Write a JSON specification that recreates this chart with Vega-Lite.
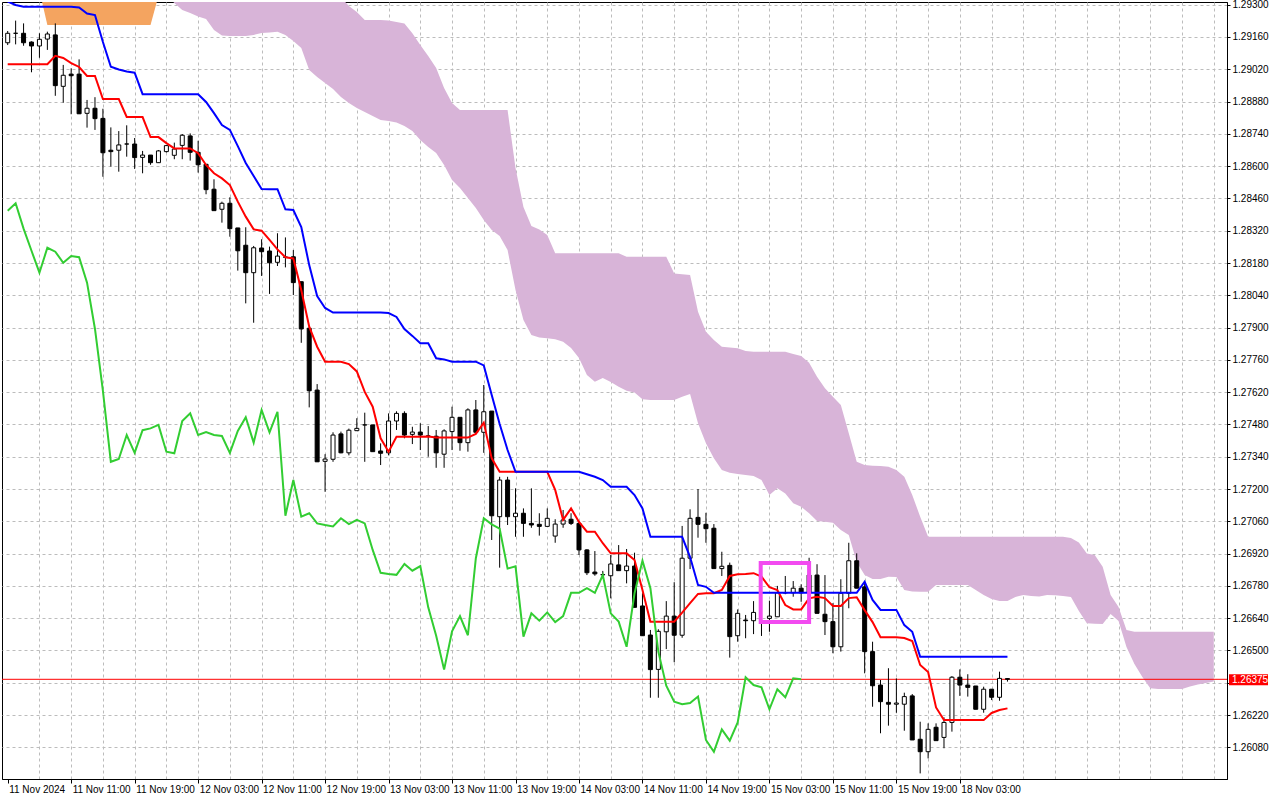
{
"$schema": "https://vega.github.io/schema/vega-lite/v6.json",
"width": 1225, "height": 777,
"autosize": {"type": "none"},
"padding": {"left": 2, "top": 2, "right": 53, "bottom": 21},
"background": "#ffffff",
"config": {"view": {"stroke": "#000000", "strokeWidth": 1}, "font": "Liberation Sans"},
"datasets": {
"bars": [
{"k":0,"o":1.29135,"h":1.29186,"l":1.29125,"c":1.29176,"t":1.29042,"kj":1.29314,"ch":1.28407},
{"k":1,"o":1.29176,"h":1.29231,"l":1.29128,"c":1.29176,"t":1.29042,"kj":1.29299,"ch":1.28439},
{"k":2,"o":1.29176,"h":1.29219,"l":1.29122,"c":1.29135,"t":1.29042,"kj":1.29291,"ch":1.28329},
{"k":3,"o":1.29138,"h":1.29141,"l":1.29007,"c":1.29121,"t":1.29042,"kj":1.29291,"ch":1.28233},
{"k":4,"o":1.29121,"h":1.29176,"l":1.29070,"c":1.29150,"t":1.29042,"kj":1.29291,"ch":1.28138},
{"k":5,"o":1.29151,"h":1.29183,"l":1.29104,"c":1.29173,"t":1.29042,"kj":1.29291,"ch":1.28246},
{"k":6,"o":1.29169,"h":1.29219,"l":1.28905,"c":1.28949,"t":1.29078,"kj":1.29291,"ch":1.28229},
{"k":7,"o":1.28946,"h":1.29039,"l":1.28875,"c":1.28994,"t":1.29069,"kj":1.29291,"ch":1.28181},
{"k":8,"o":1.28999,"h":1.29024,"l":1.28825,"c":1.28992,"t":1.29047,"kj":1.29291,"ch":1.28210},
{"k":9,"o":1.28999,"h":1.29063,"l":1.28826,"c":1.28827,"t":1.29030,"kj":1.29288,"ch":1.28205},
{"k":10,"o":1.28829,"h":1.28887,"l":1.28767,"c":1.28851,"t":1.28991,"kj":1.29262,"ch":1.28095},
{"k":11,"o":1.28851,"h":1.28899,"l":1.28757,"c":1.28806,"t":1.28991,"kj":1.29255,"ch":1.27894},
{"k":12,"o":1.28807,"h":1.28849,"l":1.28554,"c":1.28658,"t":1.28891,"kj":1.29138,"ch":1.27626},
{"k":13,"o":1.28669,"h":1.28768,"l":1.28598,"c":1.28663,"t":1.28891,"kj":1.29031,"ch":1.27318},
{"k":14,"o":1.28669,"h":1.28752,"l":1.28576,"c":1.28692,"t":1.28891,"kj":1.29019,"ch":1.27330},
{"k":15,"o":1.28696,"h":1.28777,"l":1.28641,"c":1.28696,"t":1.28813,"kj":1.29010,"ch":1.27434},
{"k":16,"o":1.28696,"h":1.28722,"l":1.28588,"c":1.28637,"t":1.28813,"kj":1.29005,"ch":1.27357},
{"k":17,"o":1.28638,"h":1.28666,"l":1.28569,"c":1.28648,"t":1.28813,"kj":1.28912,"ch":1.27455},
{"k":18,"o":1.28648,"h":1.28648,"l":1.28606,"c":1.28615,"t":1.28726,"kj":1.28912,"ch":1.27463},
{"k":19,"o":1.28615,"h":1.28670,"l":1.28614,"c":1.28666,"t":1.28726,"kj":1.28912,"ch":1.27478},
{"k":20,"o":1.28663,"h":1.28692,"l":1.28659,"c":1.28689,"t":1.28700,"kj":1.28912,"ch":1.27362},
{"k":21,"o":1.28647,"h":1.28702,"l":1.28630,"c":1.28674,"t":1.28677,"kj":1.28912,"ch":1.27355},
{"k":22,"o":1.28690,"h":1.28739,"l":1.28630,"c":1.28734,"t":1.28677,"kj":1.28912,"ch":1.27495},
{"k":23,"o":1.28731,"h":1.28742,"l":1.28624,"c":1.28660,"t":1.28677,"kj":1.28912,"ch":1.27528},
{"k":24,"o":1.28660,"h":1.28710,"l":1.28572,"c":1.28606,"t":1.28656,"kj":1.28912,"ch":1.27434},
{"k":25,"o":1.28608,"h":1.28608,"l":1.28478,"c":1.28498,"t":1.28605,"kj":1.28878,"ch":1.27447},
{"k":26,"o":1.28500,"h":1.28543,"l":1.28407,"c":1.28407,"t":1.28569,"kj":1.28830,"ch":1.27434},
{"k":27,"o":1.28413,"h":1.28446,"l":1.28355,"c":1.28439,"t":1.28547,"kj":1.28778,"ch":1.27430},
{"k":28,"o":1.28439,"h":1.28465,"l":1.28294,"c":1.28329,"t":1.28518,"kj":1.28757,"ch":1.27357},
{"k":29,"o":1.28332,"h":1.28332,"l":1.28147,"c":1.28233,"t":1.28446,"kj":1.28687,"ch":1.27452},
{"k":30,"o":1.28257,"h":1.28335,"l":1.28005,"c":1.28138,"t":1.28381,"kj":1.28614,"ch":1.27511},
{"k":31,"o":1.28138,"h":1.28254,"l":1.27921,"c":1.28246,"t":1.28326,"kj":1.28557,"ch":1.27401},
{"k":32,"o":1.28245,"h":1.28283,"l":1.28124,"c":1.28229,"t":1.28320,"kj":1.28501,"ch":1.27543},
{"k":33,"o":1.28232,"h":1.28251,"l":1.28046,"c":1.28181,"t":1.28280,"kj":1.28500,"ch":1.27446},
{"k":34,"o":1.28183,"h":1.28309,"l":1.28167,"c":1.28210,"t":1.28239,"kj":1.28500,"ch":1.27535},
{"k":35,"o":1.28206,"h":1.28291,"l":1.28161,"c":1.28205,"t":1.28205,"kj":1.28413,"ch":1.27084},
{"k":36,"o":1.28207,"h":1.28236,"l":1.28041,"c":1.28095,"t":1.28200,"kj":1.28410,"ch":1.27239},
{"k":37,"o":1.28099,"h":1.28099,"l":1.27834,"c":1.27894,"t":1.28063,"kj":1.28336,"ch":1.27080},
{"k":38,"o":1.27897,"h":1.27904,"l":1.27554,"c":1.27626,"t":1.27904,"kj":1.28171,"ch":1.27095},
{"k":39,"o":1.27629,"h":1.27655,"l":1.27318,"c":1.27318,"t":1.27817,"kj":1.28037,"ch":1.27051},
{"k":40,"o":1.27320,"h":1.27351,"l":1.27188,"c":1.27330,"t":1.27752,"kj":1.27985,"ch":1.27044},
{"k":41,"o":1.27329,"h":1.27446,"l":1.27318,"c":1.27434,"t":1.27752,"kj":1.27965,"ch":1.27038},
{"k":42,"o":1.27439,"h":1.27449,"l":1.27355,"c":1.27357,"t":1.27752,"kj":1.27965,"ch":1.27073},
{"k":43,"o":1.27357,"h":1.27462,"l":1.27346,"c":1.27455,"t":1.27742,"kj":1.27965,"ch":1.27048},
{"k":44,"o":1.27453,"h":1.27507,"l":1.27453,"c":1.27463,"t":1.27710,"kj":1.27965,"ch":1.27066},
{"k":45,"o":1.27478,"h":1.27531,"l":1.27318,"c":1.27478,"t":1.27621,"kj":1.27965,"ch":1.27051},
{"k":46,"o":1.27478,"h":1.27478,"l":1.27362,"c":1.27362,"t":1.27557,"kj":1.27965,"ch":1.26936},
{"k":47,"o":1.27365,"h":1.27398,"l":1.27304,"c":1.27355,"t":1.27420,"kj":1.27965,"ch":1.26837},
{"k":48,"o":1.27357,"h":1.27528,"l":1.27346,"c":1.27495,"t":1.27362,"kj":1.27963,"ch":1.26832},
{"k":49,"o":1.27495,"h":1.27537,"l":1.27456,"c":1.27528,"t":1.27427,"kj":1.27946,"ch":1.26828},
{"k":50,"o":1.27528,"h":1.27537,"l":1.27420,"c":1.27434,"t":1.27427,"kj":1.27894,"ch":1.26875},
{"k":51,"o":1.27437,"h":1.27470,"l":1.27395,"c":1.27447,"t":1.27427,"kj":1.27864,"ch":1.26846},
{"k":52,"o":1.27447,"h":1.27485,"l":1.27369,"c":1.27434,"t":1.27427,"kj":1.27832,"ch":1.26866},
{"k":53,"o":1.27430,"h":1.27473,"l":1.27340,"c":1.27430,"t":1.27428,"kj":1.27832,"ch":1.26687},
{"k":54,"o":1.27429,"h":1.27456,"l":1.27292,"c":1.27357,"t":1.27423,"kj":1.27767,"ch":1.26564},
{"k":55,"o":1.27351,"h":1.27459,"l":1.27292,"c":1.27452,"t":1.27423,"kj":1.27762,"ch":1.26417},
{"k":56,"o":1.27449,"h":1.27557,"l":1.27369,"c":1.27511,"t":1.27423,"kj":1.27752,"ch":1.26583},
{"k":57,"o":1.27511,"h":1.27511,"l":1.27366,"c":1.27401,"t":1.27423,"kj":1.27752,"ch":1.26649},
{"k":58,"o":1.27401,"h":1.27550,"l":1.27362,"c":1.27543,"t":1.27423,"kj":1.27752,"ch":1.26566},
{"k":59,"o":1.27543,"h":1.27586,"l":1.27446,"c":1.27446,"t":1.27439,"kj":1.27752,"ch":1.26900},
{"k":60,"o":1.27446,"h":1.27651,"l":1.27357,"c":1.27535,"t":1.27488,"kj":1.27736,"ch":1.27073},
{"k":61,"o":1.27538,"h":1.27538,"l":1.26979,"c":1.27084,"t":1.27333,"kj":1.27608,"ch":1.27047},
{"k":62,"o":1.27080,"h":1.27253,"l":1.26859,"c":1.27239,"t":1.27275,"kj":1.27482,"ch":1.27028},
{"k":63,"o":1.27239,"h":1.27253,"l":1.27044,"c":1.27080,"t":1.27275,"kj":1.27369,"ch":1.26855},
{"k":64,"o":1.27080,"h":1.27203,"l":1.26993,"c":1.27095,"t":1.27275,"kj":1.27275,"ch":1.26865},
{"k":65,"o":1.27095,"h":1.27116,"l":1.26993,"c":1.27051,"t":1.27275,"kj":1.27275,"ch":1.26560},
{"k":66,"o":1.27051,"h":1.27203,"l":1.27032,"c":1.27044,"t":1.27275,"kj":1.27275,"ch":1.26661},
{"k":67,"o":1.27047,"h":1.27095,"l":1.26998,"c":1.27038,"t":1.27275,"kj":1.27275,"ch":1.26629},
{"k":68,"o":1.27038,"h":1.27116,"l":1.27038,"c":1.27073,"t":1.27275,"kj":1.27275,"ch":1.26665},
{"k":69,"o":1.26996,"h":1.27069,"l":1.26967,"c":1.27048,"t":1.27196,"kj":1.27275,"ch":1.26623},
{"k":70,"o":1.27048,"h":1.27109,"l":1.27032,"c":1.27066,"t":1.27066,"kj":1.27275,"ch":1.26649},
{"k":71,"o":1.27069,"h":1.27095,"l":1.27044,"c":1.27051,"t":1.27116,"kj":1.27275,"ch":1.26750},
{"k":72,"o":1.27051,"h":1.27058,"l":1.26914,"c":1.26936,"t":1.27057,"kj":1.27275,"ch":1.26750},
{"k":73,"o":1.26936,"h":1.26939,"l":1.26827,"c":1.26837,"t":1.27015,"kj":1.27264,"ch":1.26770},
{"k":74,"o":1.26840,"h":1.26931,"l":1.26824,"c":1.26832,"t":1.27015,"kj":1.27253,"ch":1.26750},
{"k":75,"o":1.26829,"h":1.26845,"l":1.26814,"c":1.26828,"t":1.26965,"kj":1.27239,"ch":1.26827},
{"k":76,"o":1.26824,"h":1.26914,"l":1.26726,"c":1.26875,"t":1.26921,"kj":1.27210,"ch":1.26661},
{"k":77,"o":1.26871,"h":1.26957,"l":1.26846,"c":1.26846,"t":1.26921,"kj":1.27210,"ch":1.26625},
{"k":78,"o":1.26846,"h":1.26940,"l":1.26791,"c":1.26866,"t":1.26921,"kj":1.27210,"ch":1.26516},
{"k":79,"o":1.26866,"h":1.26924,"l":1.26687,"c":1.26687,"t":1.26892,"kj":1.27174,"ch":1.26748},
{"k":80,"o":1.26693,"h":1.26748,"l":1.26564,"c":1.26564,"t":1.26762,"kj":1.27116,"ch":1.26889},
{"k":81,"o":1.26567,"h":1.26589,"l":1.26295,"c":1.26417,"t":1.26625,"kj":1.26993,"ch":1.26770},
{"k":82,"o":1.26418,"h":1.26592,"l":1.26295,"c":1.26583,"t":1.26625,"kj":1.26993,"ch":1.26495},
{"k":83,"o":1.26581,"h":1.26714,"l":1.26506,"c":1.26649,"t":1.26625,"kj":1.26993,"ch":1.26347},
{"k":84,"o":1.26649,"h":1.26796,"l":1.26449,"c":1.26566,"t":1.26625,"kj":1.26993,"ch":1.26278},
{"k":85,"o":1.26566,"h":1.27040,"l":1.26555,"c":1.26900,"t":1.26664,"kj":1.26993,"ch":1.26267},
{"k":86,"o":1.26900,"h":1.27112,"l":1.26853,"c":1.27073,"t":1.26705,"kj":1.26905,"ch":1.26272},
{"k":87,"o":1.27077,"h":1.27200,"l":1.26989,"c":1.27047,"t":1.26745,"kj":1.26784,"ch":1.26300},
{"k":88,"o":1.27047,"h":1.27097,"l":1.26967,"c":1.27028,"t":1.26748,"kj":1.26776,"ch":1.26112},
{"k":89,"o":1.27030,"h":1.27048,"l":1.26855,"c":1.26855,"t":1.26748,"kj":1.26750,"ch":1.26061},
{"k":90,"o":1.26855,"h":1.26928,"l":1.26823,"c":1.26865,"t":1.26762,"kj":1.26750,"ch":1.26158},
{"k":91,"o":1.26869,"h":1.26881,"l":1.26469,"c":1.26560,"t":1.26823,"kj":1.26750,"ch":1.26109},
{"k":92,"o":1.26564,"h":1.26678,"l":1.26538,"c":1.26661,"t":1.26830,"kj":1.26750,"ch":1.26188},
{"k":93,"o":1.26632,"h":1.26654,"l":1.26553,"c":1.26629,"t":1.26832,"kj":1.26750,"ch":1.26384},
{"k":94,"o":1.26629,"h":1.26714,"l":1.26571,"c":1.26665,"t":1.26835,"kj":1.26750,"ch":1.26350},
{"k":95,"o":1.26628,"h":1.26662,"l":1.26563,"c":1.26623,"t":1.26820,"kj":1.26750,"ch":1.26340},
{"k":96,"o":1.26639,"h":1.26716,"l":1.26581,"c":1.26649,"t":1.26774,"kj":1.26750,"ch":1.26245},
{"k":97,"o":1.26646,"h":1.26780,"l":1.26646,"c":1.26750,"t":1.26762,"kj":1.26750,"ch":1.26332},
{"k":98,"o":1.26750,"h":1.26823,"l":1.26744,"c":1.26750,"t":1.26697,"kj":1.26750,"ch":1.26297},
{"k":99,"o":1.26750,"h":1.26801,"l":1.26733,"c":1.26770,"t":1.26678,"kj":1.26750,"ch":1.26379},
{"k":100,"o":1.26770,"h":1.26787,"l":1.26711,"c":1.26750,"t":1.26678,"kj":1.26750,"ch":1.26375},
{"k":101,"o":1.26750,"h":1.26902,"l":1.26726,"c":1.26827,"t":1.26726,"kj":1.26750},
{"k":102,"o":1.26827,"h":1.26874,"l":1.26661,"c":1.26661,"t":1.26733,"kj":1.26750},
{"k":103,"o":1.26657,"h":1.26827,"l":1.26567,"c":1.26625,"t":1.26727,"kj":1.26750},
{"k":104,"o":1.26625,"h":1.26705,"l":1.26488,"c":1.26516,"t":1.26693,"kj":1.26750},
{"k":105,"o":1.26516,"h":1.26809,"l":1.26495,"c":1.26748,"t":1.26693,"kj":1.26750},
{"k":106,"o":1.26748,"h":1.26967,"l":1.26683,"c":1.26889,"t":1.26727,"kj":1.26750},
{"k":107,"o":1.26889,"h":1.26921,"l":1.26770,"c":1.26770,"t":1.26731,"kj":1.26750},
{"k":108,"o":1.26776,"h":1.26798,"l":1.26401,"c":1.26495,"t":1.26675,"kj":1.26798},
{"k":109,"o":1.26495,"h":1.26538,"l":1.26256,"c":1.26347,"t":1.26623,"kj":1.26719},
{"k":110,"o":1.26350,"h":1.26372,"l":1.26141,"c":1.26278,"t":1.26557,"kj":1.26676},
{"k":111,"o":1.26275,"h":1.26423,"l":1.26174,"c":1.26267,"t":1.26557,"kj":1.26676},
{"k":112,"o":1.26267,"h":1.26379,"l":1.26230,"c":1.26272,"t":1.26557,"kj":1.26676},
{"k":113,"o":1.26267,"h":1.26317,"l":1.26152,"c":1.26300,"t":1.26554,"kj":1.26610},
{"k":114,"o":1.26303,"h":1.26311,"l":1.26112,"c":1.26112,"t":1.26541,"kj":1.26581},
{"k":115,"o":1.26115,"h":1.26191,"l":1.25967,"c":1.26061,"t":1.26437,"kj":1.26473},
{"k":116,"o":1.26061,"h":1.26184,"l":1.26032,"c":1.26158,"t":1.26407,"kj":1.26473},
{"k":117,"o":1.26167,"h":1.26184,"l":1.26109,"c":1.26109,"t":1.26253,"kj":1.26473},
{"k":118,"o":1.26123,"h":1.26210,"l":1.26076,"c":1.26188,"t":1.26198,"kj":1.26473},
{"k":119,"o":1.26188,"h":1.26389,"l":1.26148,"c":1.26384,"t":1.26198,"kj":1.26473},
{"k":120,"o":1.26384,"h":1.26418,"l":1.26303,"c":1.26350,"t":1.26198,"kj":1.26473},
{"k":121,"o":1.26350,"h":1.26397,"l":1.26300,"c":1.26340,"t":1.26198,"kj":1.26473},
{"k":122,"o":1.26346,"h":1.26346,"l":1.26245,"c":1.26245,"t":1.26198,"kj":1.26473},
{"k":123,"o":1.26245,"h":1.26343,"l":1.26230,"c":1.26332,"t":1.26198,"kj":1.26473},
{"k":124,"o":1.26332,"h":1.26332,"l":1.26285,"c":1.26297,"t":1.26229,"kj":1.26473},
{"k":125,"o":1.26297,"h":1.26408,"l":1.26282,"c":1.26379,"t":1.26242,"kj":1.26473},
{"k":126,"o":1.26378,"h":1.26379,"l":1.26365,"c":1.26375,"t":1.26249,"kj":1.26473}
],
"orange": [
{"k":4,"u":1.2950,"l":1.29362},{"k":5,"u":1.2950,"l":1.29212},{"k":6,"u":1.2950,"l":1.29212},{"k":7,"u":1.2950,"l":1.29212},
{"k":8,"u":1.2950,"l":1.29212},{"k":9,"u":1.2950,"l":1.29212},{"k":10,"u":1.2950,"l":1.29212},{"k":11,"u":1.2950,"l":1.29212},
{"k":12,"u":1.2950,"l":1.29212},{"k":13,"u":1.2950,"l":1.29212},{"k":14,"u":1.2950,"l":1.29212},{"k":15,"u":1.2950,"l":1.29212},
{"k":16,"u":1.2950,"l":1.29212},{"k":17,"u":1.2950,"l":1.29212},{"k":18,"u":1.2950,"l":1.29212},{"k":19,"u":1.2950,"l":1.29338}
],
"pink": [
{"k":20,"u":1.29494,"l":1.29342},{"k":21,"u":1.29494,"l":1.29307},{"k":22,"u":1.29494,"l":1.29277},{"k":23,"u":1.29494,"l":1.29264},
{"k":24,"u":1.29494,"l":1.29249},{"k":25,"u":1.29494,"l":1.29238},{"k":26,"u":1.29494,"l":1.29190},{"k":27,"u":1.29494,"l":1.29166},
{"k":28,"u":1.29494,"l":1.29164},{"k":29,"u":1.29494,"l":1.29164},{"k":30,"u":1.29494,"l":1.29164},{"k":31,"u":1.29494,"l":1.29169},
{"k":32,"u":1.29494,"l":1.29177},{"k":33,"u":1.29494,"l":1.29179},{"k":34,"u":1.29494,"l":1.29183},{"k":35,"u":1.29494,"l":1.29169},
{"k":36,"u":1.29494,"l":1.29143},{"k":37,"u":1.29494,"l":1.29112},{"k":38,"u":1.29494,"l":1.29017},{"k":39,"u":1.29494,"l":1.28987},
{"k":40,"u":1.29460,"l":1.28961},{"k":41,"u":1.29385,"l":1.28935},{"k":42,"u":1.29333,"l":1.28900},{"k":43,"u":1.29294,"l":1.28874},
{"k":44,"u":1.29268,"l":1.28852},{"k":45,"u":1.29234,"l":1.28835},{"k":46,"u":1.29234,"l":1.28817},{"k":47,"u":1.29234,"l":1.28800},
{"k":48,"u":1.29231,"l":1.28796},{"k":49,"u":1.29225,"l":1.28789},{"k":50,"u":1.29219,"l":1.28774},{"k":51,"u":1.29176,"l":1.28752},
{"k":52,"u":1.29125,"l":1.28713},{"k":53,"u":1.29078,"l":1.28683},{"k":54,"u":1.29026,"l":1.28657},{"k":55,"u":1.28939,"l":1.28605},
{"k":56,"u":1.28874,"l":1.28540},{"k":57,"u":1.28843,"l":1.28505},{"k":58,"u":1.28843,"l":1.28462},{"k":59,"u":1.28843,"l":1.28419},
{"k":60,"u":1.28843,"l":1.28367},{"k":61,"u":1.28843,"l":1.28323},{"k":62,"u":1.28843,"l":1.28297},{"k":63,"u":1.28843,"l":1.28236},
{"k":64,"u":1.28592,"l":1.28063},{"k":65,"u":1.28423,"l":1.27933},{"k":66,"u":1.28340,"l":1.27868},{"k":67,"u":1.28325,"l":1.27857},
{"k":68,"u":1.28301,"l":1.27854},{"k":69,"u":1.28222,"l":1.27849},{"k":70,"u":1.28222,"l":1.27839},{"k":71,"u":1.28222,"l":1.27812},
{"k":72,"u":1.28222,"l":1.27768},{"k":73,"u":1.28222,"l":1.27694},{"k":74,"u":1.28222,"l":1.27665},{"k":75,"u":1.28222,"l":1.27681},
{"k":76,"u":1.28222,"l":1.27664},{"k":77,"u":1.28222,"l":1.27644},{"k":78,"u":1.28207,"l":1.27626},{"k":79,"u":1.28207,"l":1.27618},
{"k":80,"u":1.28207,"l":1.27589},{"k":81,"u":1.28207,"l":1.27586},{"k":82,"u":1.28207,"l":1.27586},{"k":83,"u":1.28207,"l":1.27586},
{"k":84,"u":1.28135,"l":1.27586},{"k":85,"u":1.28131,"l":1.27600},{"k":86,"u":1.28128,"l":1.27612},{"k":87,"u":1.27969,"l":1.27485},
{"k":88,"u":1.27882,"l":1.27398},{"k":89,"u":1.27846,"l":1.27333},{"k":90,"u":1.27817,"l":1.27283},{"k":91,"u":1.27814,"l":1.27271},
{"k":92,"u":1.27810,"l":1.27265},{"k":93,"u":1.27799,"l":1.27261},{"k":94,"u":1.27795,"l":1.27257},{"k":95,"u":1.27795,"l":1.27239},
{"k":96,"u":1.27795,"l":1.27174},{"k":97,"u":1.27795,"l":1.27203},{"k":98,"u":1.27795,"l":1.27181},{"k":99,"u":1.27785,"l":1.27138},
{"k":100,"u":1.27777,"l":1.27123},{"k":101,"u":1.27748,"l":1.27095},{"k":102,"u":1.27687,"l":1.27061},{"k":103,"u":1.27637,"l":1.27058},
{"k":104,"u":1.27600,"l":1.27054},{"k":105,"u":1.27564,"l":1.27022},{"k":106,"u":1.27442,"l":1.27001},{"k":107,"u":1.27318,"l":1.26884},
{"k":108,"u":1.27304,"l":1.26827},{"k":109,"u":1.27301,"l":1.26810},{"k":110,"u":1.27300,"l":1.26810},{"k":111,"u":1.27297,"l":1.26820},
{"k":112,"u":1.27283,"l":1.26819},{"k":113,"u":1.27253,"l":1.26762},{"k":114,"u":1.27174,"l":1.26756},{"k":115,"u":1.27080,"l":1.26755},
{"k":116,"u":1.26993,"l":1.26755},{"k":117,"u":1.26993,"l":1.26784},{"k":118,"u":1.26993,"l":1.26784},{"k":119,"u":1.26993,"l":1.26784},
{"k":120,"u":1.26993,"l":1.26784},{"k":121,"u":1.26993,"l":1.26784},{"k":122,"u":1.26993,"l":1.26762},{"k":123,"u":1.26993,"l":1.26741},
{"k":124,"u":1.26993,"l":1.26723},{"k":125,"u":1.26993,"l":1.26714},{"k":126,"u":1.26993,"l":1.26714},{"k":127,"u":1.26993,"l":1.26732},
{"k":128,"u":1.26993,"l":1.26741},{"k":129,"u":1.26993,"l":1.26736},{"k":130,"u":1.26993,"l":1.26734},{"k":131,"u":1.26993,"l":1.26741},
{"k":132,"u":1.26993,"l":1.26739},{"k":133,"u":1.26993,"l":1.26736},{"k":134,"u":1.26988,"l":1.26732},{"k":135,"u":1.26968,"l":1.26671},
{"k":136,"u":1.26920,"l":1.26618},{"k":137,"u":1.26914,"l":1.26616},{"k":138,"u":1.26863,"l":1.26615},{"k":139,"u":1.26741,"l":1.26658},
{"k":140,"u":1.26688,"l":1.26628},{"k":141,"u":1.26589,"l":1.26515},{"k":142,"u":1.26581,"l":1.26441},{"k":143,"u":1.26581,"l":1.26385},
{"k":144,"u":1.26581,"l":1.26336},{"k":145,"u":1.26581,"l":1.26333},{"k":146,"u":1.26581,"l":1.26333},{"k":147,"u":1.26581,"l":1.26333},
{"k":148,"u":1.26581,"l":1.26333},{"k":149,"u":1.26581,"l":1.26344},{"k":150,"u":1.26581,"l":1.26352},{"k":151,"u":1.26581,"l":1.26359},
{"k":152,"u":1.26581,"l":1.26365}
],
"last": [{"price": 1.26375}],
"box": [{"k1": 94.9, "k2": 101.0, "p1": 1.26879, "p2": 1.26623}]
},
"layer": [
{
"data": {"name": "orange"},
"mark": {"type": "area", "clip": true, "color": "#F4A460", "opacity": 1},
"encoding": {
"x": {"field": "k", "type": "quantitative", "title": null,
 "scale": {"domain": [-0.0875, 153.0375], "nice": false, "zero": false},
 "axis": {"orient": "bottom", "tickCount": 60,
  "values": [0,4,8,12,16,20,24,28,32,36,40,44,48,52,56,60,64,68,72,76,80,84,88,92,96,100,104,108,112,116,120,124,128,132,136,140,144,148,152],
  "labelExpr": "(datum.value % 8 == 0 && datum.value <= 120) ? ['11 Nov 2024','11 Nov 11:00','11 Nov 19:00','12 Nov 03:00','12 Nov 11:00','12 Nov 19:00','13 Nov 03:00','13 Nov 11:00','13 Nov 19:00','14 Nov 03:00','14 Nov 11:00','14 Nov 19:00','15 Nov 03:00','15 Nov 11:00','15 Nov 19:00','18 Nov 03:00'][datum.value / 8] : ''",
  "grid": true, "gridColor": "#bcbcbc", "gridDash": [3, 3], "gridWidth": 1,
  "gridOpacity": {"condition": {"test": "datum.value == 0", "value": 0}, "value": 1},
  "ticks": true, "tickSize": 4, "tickColor": "#000000",
  "tickOpacity": {"condition": {"test": "datum.value % 8 == 0 && datum.value <= 120", "value": 1}, "value": 0},
  "domain": true, "domainColor": "#000000",
  "labelAlign": "left", "labelBaseline": "top", "labelPadding": 1, "labelOffset": 1,
  "labelFont": "Liberation Sans", "labelFontSize": 10, "labelColor": "#000000",
  "labelOverlap": false, "labelFlush": false, "labelBound": false, "title": null}},
"y": {"field": "u", "type": "quantitative", "title": null,
 "scale": {"domain": [1.259427, 1.293117], "nice": false, "zero": false},
 "axis": {"orient": "right", "tickCount": 40,
  "values": [1.2608,1.2622,1.2636,1.265,1.2664,1.2678,1.2692,1.2706,1.272,1.2734,1.2748,1.2762,1.2776,1.279,1.2804,1.2818,1.2832,1.2846,1.286,1.2874,1.2888,1.2902,1.2916,1.293],
  "labelExpr": "abs(datum.value - 1.2636) < 0.00001 ? '' : format(datum.value, '.5f')",
  "grid": true, "gridColor": "#bcbcbc", "gridDash": [3, 3], "gridWidth": 1,
  "ticks": true, "tickSize": 3, "tickColor": "#000000",
  "domain": true, "domainColor": "#000000",
  "labelPadding": 2, "labelFont": "Liberation Sans", "labelFontSize": 10, "labelColor": "#000000",
  "labelOverlap": false, "labelBound": false, "title": null}},
"y2": {"field": "l"}
}
},
{
"data": {"name": "pink"},
"mark": {"type": "area", "clip": true, "color": "#D8B4D8", "opacity": 1},
"encoding": {
"x": {"field": "k", "type": "quantitative", "title": null},
"y": {"field": "u", "type": "quantitative", "title": null},
"y2": {"field": "l"}
}
},
{
"data": {"name": "last"},
"mark": {"type": "rule", "color": "#FF0000", "strokeWidth": 1},
"encoding": {"y": {"field": "price", "type": "quantitative", "title": null}}
},
{
"data": {"name": "bars"},
"mark": {"type": "rule", "color": "#000000", "strokeWidth": 1, "clip": true},
"encoding": {
"x": {"field": "k", "type": "quantitative", "title": null},
"y": {"field": "l", "type": "quantitative", "title": null},
"y2": {"field": "h"}
}
},
{
"data": {"name": "bars"},
"mark": {"type": "bar", "size": 4, "stroke": "#000000", "strokeWidth": 1, "clip": true},
"encoding": {
"x": {"field": "k", "type": "quantitative", "title": null},
"y": {"field": "o", "type": "quantitative", "title": null},
"y2": {"field": "c"},
"fill": {"condition": {"test": "datum.c >= datum.o", "value": "#ffffff"}, "value": "#000000"}
}
},
{
"data": {"name": "bars"},
"mark": {"type": "line", "color": "#FF0000", "strokeWidth": 2, "clip": true},
"encoding": {
"x": {"field": "k", "type": "quantitative", "title": null},
"y": {"field": "t", "type": "quantitative", "title": null}
}
},
{
"data": {"name": "bars"},
"mark": {"type": "line", "color": "#0000FF", "strokeWidth": 2, "clip": true},
"encoding": {
"x": {"field": "k", "type": "quantitative", "title": null},
"y": {"field": "kj", "type": "quantitative", "title": null}
}
},
{
"data": {"name": "bars"},
"mark": {"type": "line", "color": "#32CD32", "strokeWidth": 2, "clip": true},
"encoding": {
"x": {"field": "k", "type": "quantitative", "title": null},
"y": {"field": "ch", "type": "quantitative", "title": null}
}
},
{
"data": {"name": "box"},
"mark": {"type": "rect", "fillOpacity": 0, "stroke": "#F24BF0", "strokeWidth": 4},
"encoding": {
"x": {"field": "k1", "type": "quantitative", "title": null},
"x2": {"field": "k2"},
"y": {"field": "p1", "type": "quantitative", "title": null},
"y2": {"field": "p2"}
}
},
{
"data": {"name": "last"},
"mark": {"type": "rect", "color": "#FF0000", "xOffset": 2, "x2Offset": 41, "yOffset": -5, "y2Offset": 6},
"encoding": {
"x": {"value": "width"},
"x2": {"value": "width"},
"y": {"field": "price", "type": "quantitative", "title": null},
"y2": {"field": "price"}
}
},
{
"data": {"name": "last"},
"mark": {"type": "text", "color": "#ffffff", "align": "left", "baseline": "middle", "xOffset": 5, "yOffset": 0.5, "font": "Liberation Sans", "fontSize": 10},
"encoding": {
"x": {"value": "width"},
"y": {"field": "price", "type": "quantitative", "title": null},
"text": {"field": "price", "type": "quantitative", "format": ".5f"}
}
}
]
}
